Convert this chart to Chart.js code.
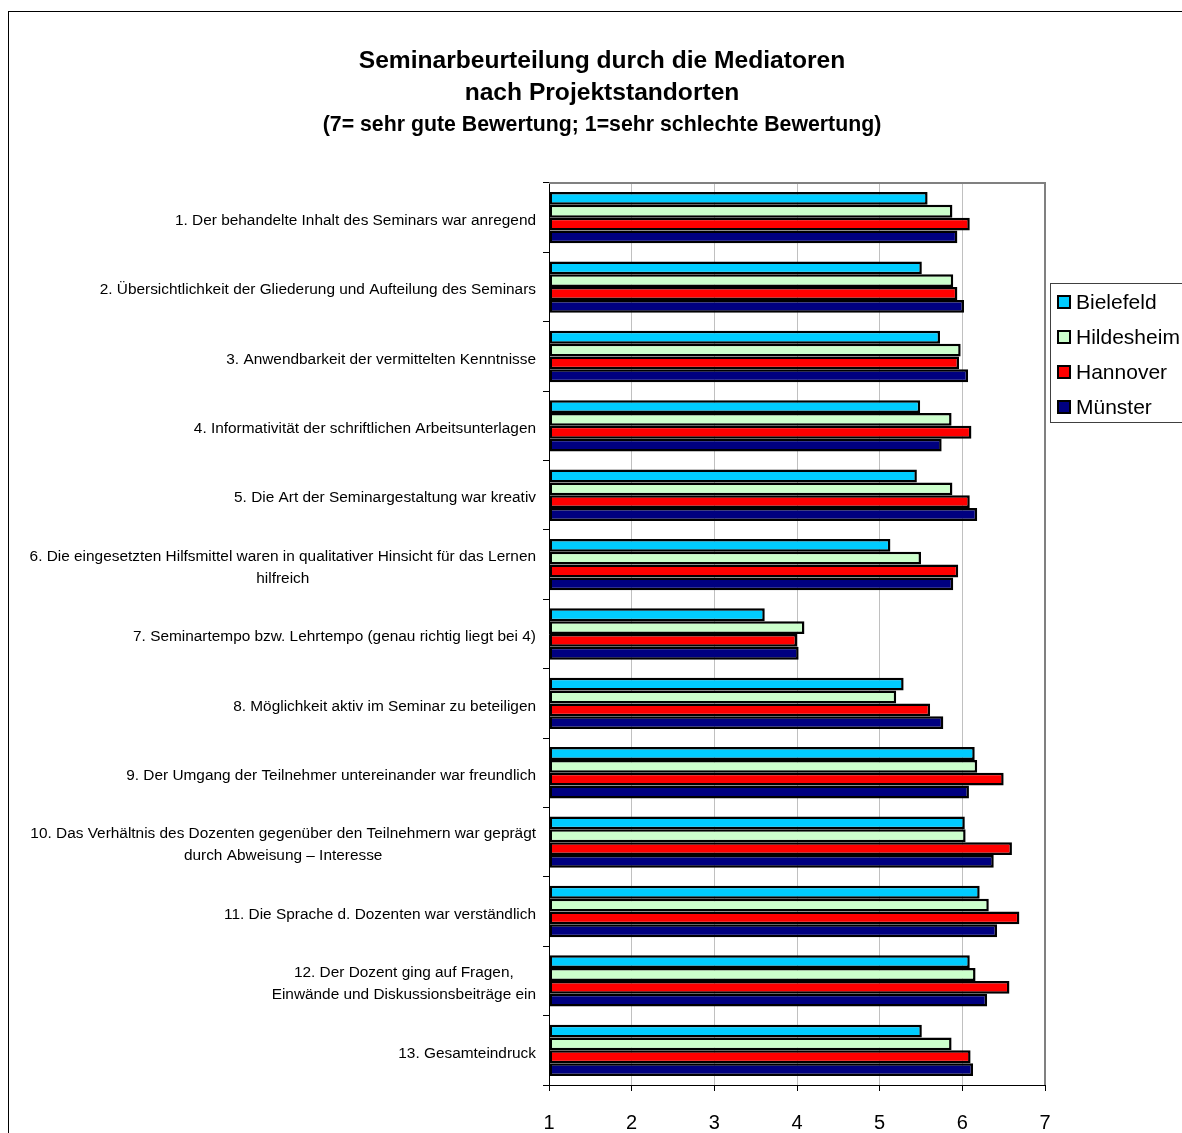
<!DOCTYPE html>
<html>
<head>
<meta charset="utf-8">
<script src="https://cdn.jsdelivr.net/npm/chart.js@4.4.0/dist/chart.umd.min.js"></script>
<style>
  html, body { margin: 0; padding: 0; background: #fff; }
</style>
</head>
<body>
<canvas id="chart" width="1182" height="1133"></canvas>
<script>
// Kategorien (mehrzeilige Beschriftungen als Arrays)
const categories = [
  ["1. Der behandelte Inhalt des Seminars war anregend"],
  ["2. Übersichtlichkeit der Gliederung und Aufteilung des Seminars"],
  ["3. Anwendbarkeit der vermittelten Kenntnisse"],
  ["4. Informativität der schriftlichen Arbeitsunterlagen"],
  ["5. Die Art der Seminargestaltung war kreativ"],
  ["6. Die eingesetzten Hilfsmittel waren in qualitativer Hinsicht für das Lernen", "hilfreich"],
  ["7. Seminartempo bzw. Lehrtempo (genau richtig liegt bei 4)"],
  ["8. Möglichkeit aktiv im Seminar zu beteiligen"],
  ["9. Der Umgang der Teilnehmer untereinander war freundlich"],
  ["10. Das Verhältnis des Dozenten gegenüber den Teilnehmern war geprägt", "durch Abweisung – Interesse"],
  ["11. Die Sprache d. Dozenten war verständlich"],
  ["12. Der Dozent ging auf Fragen,", "Einwände und Diskussionsbeiträge ein"],
  ["13. Gesamteindruck"]
];

const sites = ["Bielefeld", "Hildesheim", "Hannover", "Münster"];
const bielefeld  = [5.58, 5.51, 5.73, 5.49, 5.45, 5.13, 3.61, 5.29, 6.15, 6.03, 6.21, 6.09, 5.51];
const hildesheim = [5.88, 5.89, 5.98, 5.87, 5.88, 5.50, 4.09, 5.20, 6.18, 6.04, 6.32, 6.16, 5.87];
const hannover   = [6.09, 5.94, 5.96, 6.11, 6.09, 5.95, 4.00, 5.61, 6.50, 6.60, 6.69, 6.57, 6.10];
const muenster   = [5.94, 6.02, 6.07, 5.75, 6.18, 5.89, 4.02, 5.77, 6.08, 6.38, 6.42, 6.30, 6.13];
const xMin = 1, xMax = 7;

const titleLines = ["Seminarbeurteilung durch die Mediatoren", "nach Projektstandorten"];
const subTitle = "(7= sehr gute Bewertung; 1=sehr schlechte Bewertung)";

const FONT = 'Arial, "Liberation Sans", sans-serif';
const colors = ["#00CCFF", "#CCFFCC", "#FF0000", "#000080"];
const seriesValues = [bielefeld, hildesheim, hannover, muenster];

// Rahmen, Titel, Achsenbeschriftung und Legende
const decorPlugin = {
  id: "decor",
  beforeDatasetsDraw(chart) {
    const { ctx, chartArea: a } = chart;
    ctx.save();
    ctx.strokeStyle = "#808080";
    ctx.lineWidth = 2;
    ctx.beginPath();
    ctx.moveTo(a.left, a.top);
    ctx.lineTo(a.right, a.top);
    ctx.lineTo(a.right, a.bottom);
    ctx.stroke();
    ctx.restore();
  },
  afterDraw(chart) {
    const { ctx } = chart;
    ctx.save();
    // äußerer Rahmen
    ctx.strokeStyle = "#000";
    ctx.lineWidth = 1;
    ctx.strokeRect(8.5, 11.5, 2000, 2000);

    // Titel
    ctx.fillStyle = "#000";
    ctx.textAlign = "center";
    ctx.textBaseline = "middle";
    ctx.font = "bold 24.6px " + FONT;
    ctx.fillText(titleLines[0], 602, 61);
    ctx.fillText(titleLines[1], 602, 93);
    ctx.font = "bold 21.3px " + FONT;
    ctx.fillText(subTitle, 602, 125);

    // Kategorienbeschriftung (Block rechtsbündig, Zeilen zentriert)
    const yScale = chart.scales.y;
    ctx.font = "15.4px " + FONT;
    chart.data.labels.forEach((lines, i) => {
      const yc = yScale.getPixelForValue(i) + 3;
      const w = Math.max(...lines.map(l => ctx.measureText(l).width));
      const cx = yScale.right - 13 - w / 2;
      lines.forEach((l, j) => {
        ctx.fillText(l, cx, yc + (j - (lines.length - 1) / 2) * 22);
      });
    });

    // Legende
    ctx.strokeStyle = "#404040";
    ctx.lineWidth = 1;
    ctx.strokeRect(1050.5, 283.5, 200, 139);
    ctx.textAlign = "left";
    ctx.font = "21px " + FONT;
    chart.data.datasets.forEach((ds, i) => {
      const yc = 302 + i * 35;
      ctx.fillStyle = ds.backgroundColor;
      ctx.fillRect(1057, yc - 7, 14, 14);
      ctx.strokeStyle = "#000";
      ctx.lineWidth = 2;
      ctx.strokeRect(1058, yc - 6, 12, 12);
      ctx.fillStyle = "#000";
      ctx.fillText(ds.label, 1076, yc + 1);
    });
    ctx.restore();
  }
};

const ctx = document.getElementById("chart").getContext("2d");
new Chart(ctx, {
  type: "bar",
  data: {
    labels: categories,
    datasets: sites.map((s, i) => ({
      label: s,
      data: seriesValues[i],
      backgroundColor: colors[i],
      borderColor: "#000",
      borderWidth: 2.5,
      borderSkipped: false,
      base: xMin,
      barPercentage: 1.0,
      categoryPercentage: 0.74
    }))
  },
  options: {
    indexAxis: "y",
    responsive: false,
    animation: false,
    layout: { padding: { top: 183, left: 0, right: 137, bottom: 0 } },
    plugins: {
      legend: { display: false },
      title: { display: false },
      tooltip: { enabled: false }
    },
    scales: {
      x: {
        type: "linear",
        min: xMin,
        max: xMax,
        ticks: { stepSize: 1, color: "#000", font: { family: FONT, size: 20 }, padding: 20 },
        grid: { color: "#c0c0c0", tickColor: "#000", tickLength: 6 },
        border: { color: "#000", width: 1 },
        afterFit(scale) { scale.height = 48; }
      },
      y: {
        ticks: { display: false },
        grid: { drawOnChartArea: false, offset: true, color: "#000", tickLength: 6 },
        border: { color: "#000", width: 1 },
        afterFit(scale) { scale.width = 549; }
      }
    }
  },
  plugins: [decorPlugin]
});
</script>
</body>
</html>
